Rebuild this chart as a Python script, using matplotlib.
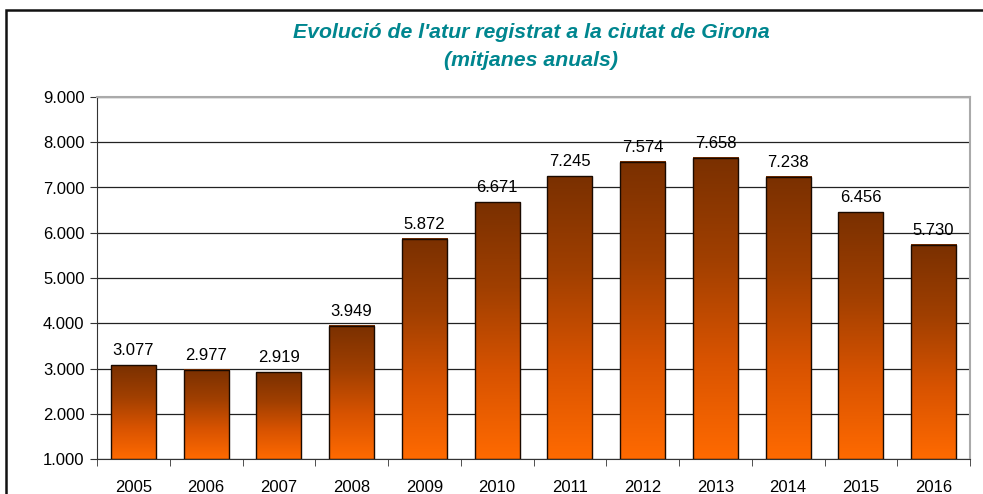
import matplotlib
matplotlib.use("Agg")
import matplotlib.pyplot as plt
import numpy as np
from matplotlib.colors import LinearSegmentedColormap
from matplotlib.patches import Rectangle

years = ["2005", "2006", "2007", "2008", "2009", "2010", "2011", "2012", "2013", "2014", "2015", "2016"]
values = [3077, 2977, 2919, 3949, 5872, 6671, 7245, 7574, 7658, 7238, 6456, 5730]
yticks = [1000, 2000, 3000, 4000, 5000, 6000, 7000, 8000, 9000]
title = "Evolució de l'atur registrat a la ciutat de Girona\n(mitjanes anuals)"

plt.rcParams['font.family'] = ['Liberation Sans', 'DejaVu Sans']

def fmt(v):
    return f"{v:,}".replace(",", ".")

W, H = 983, 494
fig = plt.figure(figsize=(W / 100, H / 100), dpi=100)
ax = fig.add_axes([97 / W, 1 - 459 / H, (970 - 97) / W, (459 - 97) / H])

cmap = LinearSegmentedColormap.from_list("g", ["#ff6a00", "#d85300", "#a03f00", "#7a3000"])
grad = np.linspace(0, 1, 256).reshape(-1, 1)

x = np.arange(len(years))
bw = 0.62
ymin = 1000
bars = ax.bar(x, [v - ymin for v in values], bottom=ymin, width=bw,
              facecolor="none", edgecolor="#1a0a00", linewidth=1.0, zorder=3)
for b, v in zip(bars, values):
    x0 = b.get_x()
    ax.imshow(grad, extent=(x0, x0 + bw, ymin, v), origin="lower",
              cmap=cmap, aspect="auto", zorder=2, interpolation="bilinear")
    ax.annotate(fmt(v), (b.get_x() + bw / 2, v), xytext=(0, 5), textcoords="offset points",
                ha="center", va="bottom", fontsize=12, color="black", zorder=4)

ax.set_xlim(-0.5, len(years) - 0.5)
ax.set_ylim(1000, 9000)
ax.set_yticks(yticks)
ax.set_yticklabels([fmt(t) for t in yticks], fontsize=12)
ax.set_xticks(x)
ax.set_xticklabels(years, fontsize=12)
ax.set_xticks(np.arange(len(years) + 1) - 0.5, minor=True)
ax.tick_params(axis="x", which="major", length=0, pad=15)
ax.tick_params(axis="x", which="minor", length=5, direction="out", color="#333333")
ax.tick_params(axis="y", length=5, direction="out", color="#333333", pad=4)
ax.yaxis.grid(True, color="#222222", linewidth=0.9, zorder=1)
ax.set_axisbelow(True)
for s in ["left", "bottom"]:
    ax.spines[s].set_color("#333333")
for s in ["top", "right"]:
    ax.spines[s].set_color("#aaaaaa")
    ax.spines[s].set_linewidth(1.5)

fig.text(531 / W, 1 - 46 / H, title, ha="center", va="center", fontsize=15.3,
         fontweight="bold", fontstyle="italic", color="#00868f", linespacing=1.6)

fig.patches.append(Rectangle((5.5 / W, -0.1), 1.2, 1.1 - 10.5 / H, transform=fig.transFigure,
                             fill=False, edgecolor="#111111", linewidth=1.8))

fig.savefig("out.png", dpi=100)
